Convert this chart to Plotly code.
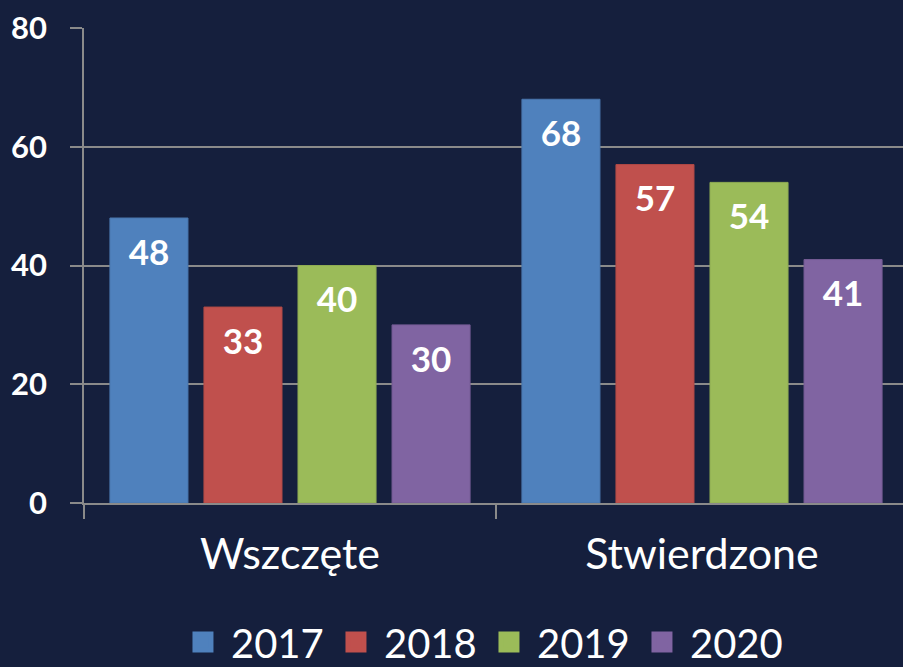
import plotly.graph_objects as go

categories = ["Wszczęte", "Stwierdzone"]
years = ["2017", "2018", "2019", "2020"]
values_2017 = [48, 68]
values_2018 = [33, 57]
values_2019 = [40, 54]
values_2020 = [30, 41]
series_values = [values_2017, values_2018, values_2019, values_2020]
colors = ["#4f81bd", "#c0504d", "#9bbb59", "#8064a2"]
line_colors = ["#4a76ad", "#b04946", "#8fac52", "#755c95"]
y_ticks = [0, 20, 40, 60, 80]

BG = "#151f3d"
FONT = "Lato"
GRID = "#8a8a8a"
LABEL_DROP = 6.4   # label centre sits this far (in y units) below the bar top
BARGAP = 0.087

fig = go.Figure()
for name, vals, c, lc in zip(years, series_values, colors, line_colors):
    fig.add_trace(go.Bar(
        name=name, x=categories, y=vals, showlegend=False,
        marker=dict(color=c, line=dict(color=lc, width=1)),
        hoverinfo="x+y+name",
    ))
for name, vals in zip(years, series_values):
    fig.add_trace(go.Scatter(
        x=categories, y=[v - LABEL_DROP for v in vals], mode="text",
        text=[str(v) for v in vals], textposition="middle center",
        textfont=dict(family=FONT, size=35, color="white", weight="bold"),
        showlegend=False, hoverinfo="skip",
    ))
# legend entries (on a hidden helper axis so they do not join the grouping)
for name, c in zip(years, colors):
    fig.add_trace(go.Scatter(
        name=name, x=[None], y=[None], mode="markers",
        xaxis="x2", yaxis="y2",
        marker=dict(symbol="square", size=16, color=c, line=dict(color=c, width=5)),
        showlegend=True,
    ))

pitch = 412.0
plot_w = 903 - 84
plot_h = 475.0
fig.update_layout(
    width=903, height=667,
    margin=dict(l=84, r=0, t=28, b=164, autoexpand=False),
    paper_bgcolor=BG, plot_bgcolor=BG,
    barmode="group", bargap=BARGAP, bargroupgap=0.17,
    scattermode="group", scattergap=BARGAP,
    font=dict(family=FONT, color="white"),
    showlegend=True,
    legend=dict(orientation="h", x=0.4847, xanchor="center",
                y=-139 / plot_h, yanchor="middle",
                font=dict(family=FONT, size=40, color="white"),
                itemwidth=46, entrywidth=92, bgcolor="rgba(0,0,0,0)"),
    xaxis=dict(range=[-0.5, -0.5 + plot_w / pitch], showgrid=False,
               showline=True, linecolor=GRID, linewidth=1.5,
               ticks="outside", tickson="boundaries", ticklen=14,
               tickcolor=GRID, tickwidth=1.5,
               tickfont=dict(family=FONT, size=43, color="white"),
               ticklabelstandoff=13),
    yaxis=dict(range=[0, 80], tickvals=y_ticks, showgrid=True,
               gridcolor=GRID, gridwidth=1.5,
               showline=True, linecolor=GRID, linewidth=1.5,
               ticks="outside", ticklen=12, tickcolor=GRID, tickwidth=1.5,
               tickfont=dict(family=FONT, size=31, color="white", weight="bold"),
               ticklabelstandoff=17, zeroline=False),
    xaxis2=dict(overlaying="x", visible=False, range=[0, 1]),
    yaxis2=dict(overlaying="y", visible=False, range=[0, 1]),
)

fig.write_html("out.html", post_script="document.body.style.margin='0';",
               config={"displayModeBar": False})
